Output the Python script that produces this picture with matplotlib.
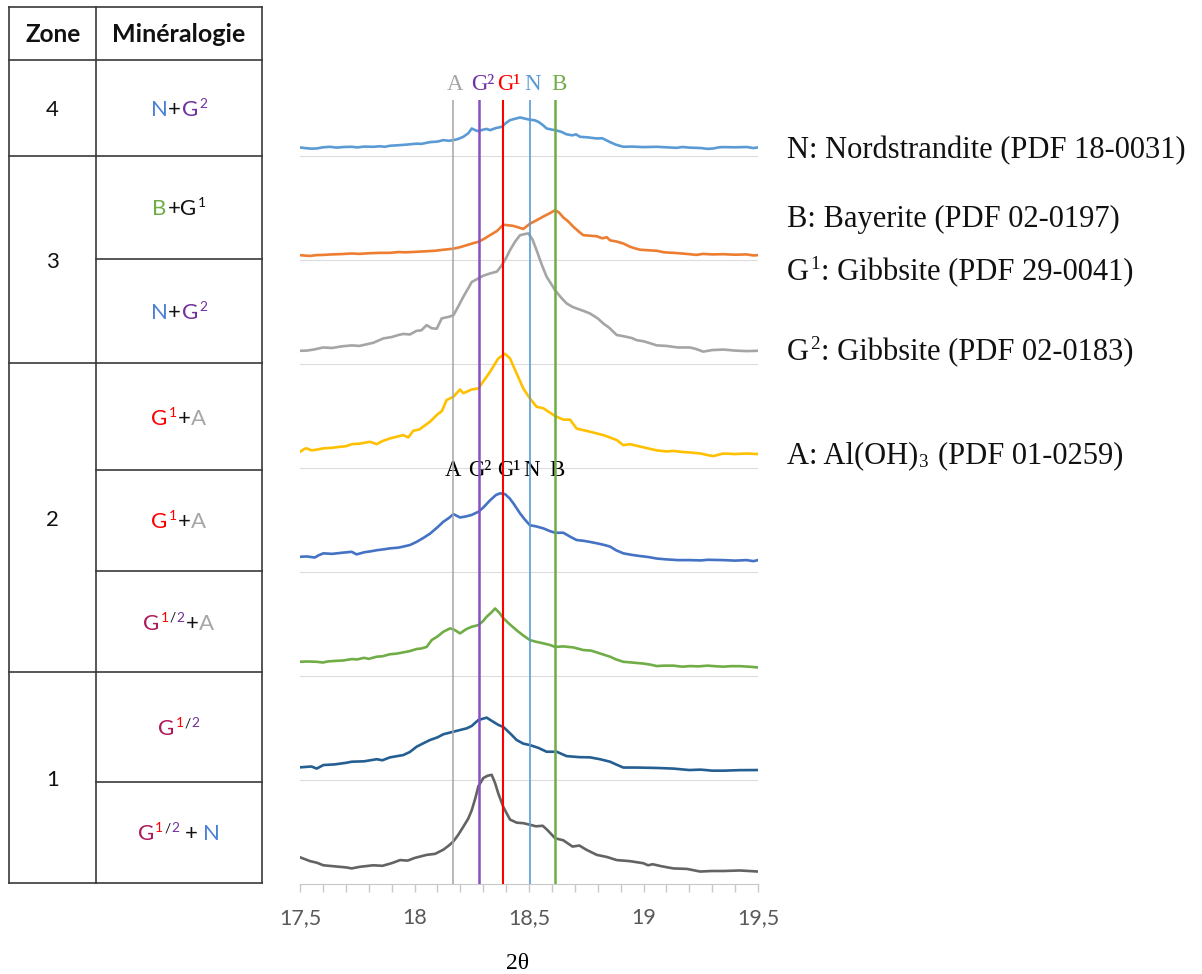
import numpy as np
import matplotlib.pyplot as plt
from matplotlib.ticker import MultipleLocator, FixedLocator

SANS = 'Lato'
SERIF = 'Liberation Serif'

# --- diffractogrammes (intensite relative, du bas vers le haut) ---
th0 = [17.5, 17.544, 17.573, 17.602, 17.65, 17.70, 17.726, 17.76, 17.82, 17.86, 17.90, 17.937, 17.97, 18.0,
       18.053, 18.09, 18.126, 18.15, 18.17, 18.19, 18.213, 18.235, 18.25, 18.265, 18.279, 18.301, 18.318,
       18.337, 18.352, 18.366, 18.388, 18.417, 18.446, 18.475, 18.504, 18.53, 18.56, 18.58, 18.614, 18.65,
       18.69, 18.72, 18.75, 18.796, 18.84, 18.883, 18.94, 18.999, 19.02, 19.04, 19.08, 19.13, 19.19, 19.247,
       19.30, 19.35, 19.42, 19.5]
y0 = [0.257, 0.22, 0.205, 0.18, 0.17, 0.16, 0.15, 0.165, 0.18, 0.175, 0.2, 0.23, 0.225, 0.25,
      0.28, 0.29, 0.33, 0.37, 0.41, 0.47, 0.55, 0.63, 0.71, 0.82, 0.94, 1.02, 1.04,
      1.05, 0.97, 0.87, 0.74, 0.62, 0.59, 0.585, 0.57, 0.555, 0.56, 0.52, 0.44, 0.42,
      0.36, 0.37, 0.33, 0.28, 0.26, 0.23, 0.22, 0.2, 0.18, 0.19, 0.17, 0.15, 0.145, 0.12,
      0.125, 0.125, 0.13, 0.12]

th1 = [17.5, 17.55, 17.573, 17.602, 17.65, 17.70, 17.726, 17.78, 17.835, 17.86, 17.893, 17.951, 17.98,
       18.009, 18.04, 18.068, 18.10, 18.126, 18.17, 18.228, 18.25, 18.265, 18.279, 18.315, 18.344, 18.366,
       18.388, 18.417, 18.446, 18.475, 18.504, 18.54, 18.577, 18.621, 18.664, 18.72, 18.766, 18.81, 18.854,
       18.88, 18.912, 18.97, 19.058, 19.13, 19.20, 19.25, 19.30, 19.35, 19.42, 19.5]
y1 = [0.122, 0.13, 0.11, 0.144, 0.15, 0.165, 0.176, 0.18, 0.2, 0.19, 0.218, 0.24, 0.27,
      0.32, 0.355, 0.385, 0.41, 0.44, 0.465, 0.497, 0.52, 0.55, 0.577, 0.60, 0.56, 0.53,
      0.51, 0.45, 0.385, 0.35, 0.336, 0.31, 0.272, 0.272, 0.23, 0.22, 0.218, 0.20, 0.176,
      0.15, 0.12, 0.12, 0.116, 0.11, 0.096, 0.10, 0.09, 0.09, 0.095, 0.096]

th2 = [17.5, 17.53, 17.573, 17.60, 17.62, 17.65, 17.69, 17.726, 17.75, 17.78, 17.80, 17.835, 17.86, 17.893,
       17.92, 17.951, 17.98, 18.009, 18.03, 18.053, 18.075, 18.10, 18.126, 18.155, 18.17, 18.199, 18.225,
       18.25, 18.279, 18.30, 18.315, 18.335, 18.352, 18.37, 18.388, 18.415, 18.446, 18.475, 18.504, 18.53,
       18.563, 18.59, 18.614, 18.65, 18.694, 18.72, 18.737, 18.77, 18.795, 18.82, 18.854, 18.88, 18.912,
       18.95, 18.999, 19.03, 19.058, 19.09, 19.13, 19.17, 19.203, 19.24, 19.28, 19.31, 19.349, 19.38, 19.42,
       19.46, 19.5]
y2 = [0.137, 0.14, 0.137, 0.13, 0.14, 0.145, 0.15, 0.163, 0.16, 0.175, 0.165, 0.186, 0.19, 0.21,
      0.215, 0.228, 0.24, 0.26, 0.265, 0.28, 0.346, 0.38, 0.426, 0.458, 0.45, 0.41, 0.45,
      0.474, 0.49, 0.53, 0.57, 0.61, 0.65, 0.61, 0.555, 0.5, 0.44, 0.39, 0.346, 0.33,
      0.314, 0.3, 0.28, 0.285, 0.275, 0.26, 0.25, 0.245, 0.228, 0.21, 0.186, 0.16, 0.137,
      0.13, 0.12, 0.11, 0.096, 0.1, 0.1, 0.09, 0.096, 0.093, 0.1, 0.095, 0.09, 0.095, 0.095,
      0.09, 0.083]

th3 = [17.5, 17.53, 17.565, 17.58, 17.602, 17.64, 17.68, 17.726, 17.747, 17.78, 17.81, 17.835, 17.87,
       17.893, 17.93, 17.951, 17.98, 18.009, 18.04, 18.068, 18.10, 18.126, 18.15, 18.17, 18.199, 18.225,
       18.25, 18.279, 18.30, 18.33, 18.355, 18.373, 18.395, 18.415, 18.432, 18.461, 18.48, 18.504, 18.53,
       18.563, 18.59, 18.614, 18.65, 18.68, 18.708, 18.74, 18.766, 18.80, 18.83, 18.854, 18.88, 18.912,
       18.95, 18.985, 19.02, 19.058, 19.10, 19.15, 19.203, 19.25, 19.28, 19.349, 19.40, 19.45, 19.48, 19.5]
y3 = [0.147, 0.15, 0.14, 0.16, 0.18, 0.175, 0.185, 0.195, 0.17, 0.19, 0.2, 0.21, 0.22,
      0.228, 0.235, 0.245, 0.26, 0.29, 0.33, 0.37, 0.43, 0.484, 0.52, 0.557, 0.525, 0.535,
      0.55, 0.58, 0.62, 0.69, 0.74, 0.757, 0.75, 0.71, 0.66, 0.564, 0.51, 0.45, 0.44,
      0.42, 0.395, 0.378, 0.378, 0.34, 0.308, 0.3, 0.29, 0.275, 0.26, 0.245, 0.21, 0.18,
      0.165, 0.154, 0.145, 0.13, 0.122, 0.115, 0.115, 0.112, 0.118, 0.115, 0.11, 0.115, 0.105, 0.115]

th4 = [17.5, 17.52, 17.529, 17.551, 17.58, 17.602, 17.64, 17.675, 17.70, 17.726, 17.76, 17.806, 17.835,
       17.86, 17.893, 17.92, 17.951, 17.973, 17.995, 18.02, 18.039, 18.07, 18.097, 18.12, 18.14, 18.17,
       18.199, 18.213, 18.25, 18.279, 18.33, 18.366, 18.395, 18.417, 18.446, 18.475, 18.504, 18.533, 18.563,
       18.614, 18.65, 18.679, 18.708, 18.766, 18.825, 18.883, 18.912, 18.941, 18.999, 19.058, 19.10, 19.13,
       19.17, 19.203, 19.25, 19.28, 19.305, 19.33, 19.349, 19.40, 19.45, 19.5]
y4 = [0.157, 0.185, 0.19, 0.17, 0.18, 0.19, 0.195, 0.205, 0.21, 0.23, 0.235, 0.253, 0.23,
      0.26, 0.285, 0.3, 0.317, 0.295, 0.36, 0.37, 0.40, 0.45, 0.51, 0.55, 0.654, 0.686,
      0.756, 0.72, 0.756, 0.766, 0.926, 1.055, 1.10, 1.055, 0.91, 0.766, 0.67, 0.59, 0.575,
      0.50, 0.466, 0.466, 0.38, 0.35, 0.317, 0.27, 0.22, 0.23, 0.20, 0.17, 0.16, 0.165,
      0.155, 0.15, 0.14, 0.125, 0.115, 0.13, 0.14, 0.135, 0.14, 0.135]

th5 = [17.5, 17.53, 17.56, 17.602, 17.64, 17.68, 17.726, 17.76, 17.79, 17.82, 17.864, 17.90, 17.93,
       17.951, 17.98, 18.009, 18.03, 18.053, 18.075, 18.097, 18.119, 18.15, 18.17, 18.19, 18.213, 18.235,
       18.25, 18.279, 18.30, 18.33, 18.36, 18.381, 18.40, 18.417, 18.44, 18.461, 18.48, 18.497, 18.515,
       18.533, 18.555, 18.577, 18.60, 18.614, 18.64, 18.664, 18.69, 18.708, 18.74, 18.766, 18.80, 18.825,
       18.85, 18.883, 18.92, 18.95, 18.97, 19.0, 19.03, 19.058, 19.10, 19.15, 19.203, 19.23, 19.261, 19.30,
       19.349, 19.40, 19.45, 19.5]
y5 = [0.128, 0.13, 0.14, 0.16, 0.155, 0.17, 0.18, 0.175, 0.19, 0.205, 0.247, 0.26, 0.28,
      0.29, 0.285, 0.32, 0.325, 0.375, 0.345, 0.34, 0.44, 0.455, 0.47, 0.55, 0.647, 0.73,
      0.79, 0.824, 0.85, 0.872, 0.89, 0.95, 1.02, 1.096, 1.18, 1.24, 1.25, 1.257, 1.2,
      1.096, 0.96, 0.84, 0.76, 0.71, 0.64, 0.584, 0.55, 0.535, 0.51, 0.487, 0.44, 0.39,
      0.35, 0.28, 0.265, 0.25, 0.23, 0.22, 0.2, 0.18, 0.175, 0.16, 0.16, 0.145, 0.12, 0.135,
      0.14, 0.13, 0.125, 0.128]

th6 = [17.5, 17.52, 17.544, 17.57, 17.60, 17.64, 17.68, 17.726, 17.76, 17.80, 17.85, 17.893, 17.93,
       17.96, 18.009, 18.05, 18.09, 18.126, 18.17, 18.20, 18.228, 18.26, 18.279, 18.30, 18.33, 18.36,
       18.388, 18.41, 18.43, 18.446, 18.475, 18.504, 18.53, 18.563, 18.59, 18.614, 18.63, 18.65, 18.67,
       18.694, 18.72, 18.737, 18.765, 18.795, 18.82, 18.84, 18.854, 18.88, 18.912, 18.94, 18.96, 18.985,
       19.02, 19.058, 19.09, 19.13, 19.16, 19.203, 19.23, 19.26, 19.30, 19.349, 19.40, 19.45, 19.48, 19.5]
y6 = [0.048, 0.044, 0.04, 0.048, 0.05, 0.055, 0.058, 0.064, 0.06, 0.066, 0.07, 0.07, 0.078,
      0.075, 0.08, 0.085, 0.09, 0.10, 0.11, 0.125, 0.144, 0.165, 0.176, 0.2, 0.24, 0.28,
      0.34, 0.335, 0.33, 0.32, 0.30, 0.35, 0.38, 0.42, 0.45, 0.48, 0.46, 0.41, 0.375,
      0.32, 0.27, 0.24, 0.235, 0.23, 0.21, 0.22, 0.19, 0.18, 0.16, 0.13, 0.115, 0.10,
      0.095, 0.09, 0.075, 0.07, 0.065, 0.057, 0.05, 0.06, 0.055, 0.057, 0.052, 0.055, 0.045, 0.048]

th7 = [17.5, 17.52, 17.55, 17.573, 17.60, 17.631, 17.66, 17.69, 17.726, 17.75, 17.78, 17.82, 17.85,
       17.87, 17.893, 17.93, 17.96, 18.009, 18.03, 18.068, 18.10, 18.126, 18.15, 18.17, 18.19, 18.213,
       18.235, 18.25, 18.265, 18.279, 18.30, 18.315, 18.33, 18.355, 18.381, 18.40, 18.417, 18.44, 18.461,
       18.48, 18.504, 18.525, 18.541, 18.56, 18.577, 18.60, 18.614, 18.64, 18.664, 18.69, 18.705, 18.723,
       18.76, 18.795, 18.82, 18.854, 18.88, 18.912, 18.95, 19.0, 19.058, 19.10, 19.145, 19.17, 19.20,
       19.25, 19.28, 19.305, 19.33, 19.349, 19.40, 19.45, 19.48, 19.5]
y7 = [0.084, 0.078, 0.072, 0.074, 0.085, 0.09, 0.082, 0.088, 0.09, 0.084, 0.092, 0.09, 0.095,
      0.09, 0.10, 0.105, 0.11, 0.12, 0.118, 0.135, 0.14, 0.154, 0.148, 0.154, 0.165, 0.186,
      0.22, 0.266, 0.25, 0.24, 0.255, 0.262, 0.25, 0.27, 0.282, 0.32, 0.346, 0.36, 0.372,
      0.362, 0.35, 0.345, 0.33, 0.30, 0.266, 0.255, 0.25, 0.235, 0.21, 0.2, 0.21, 0.186,
      0.18, 0.17, 0.172, 0.135, 0.11, 0.09, 0.092, 0.087, 0.09, 0.085, 0.08, 0.088, 0.082,
      0.078, 0.07, 0.074, 0.085, 0.087, 0.085, 0.088, 0.078, 0.084]

traces = [(th0, y0, '#636363'), (th1, y1, '#255E91'), (th2, y2, '#70AD47'), (th3, y3, '#4472C4'),
          (th4, y4, '#FFC000'), (th5, y5, '#A5A5A5'), (th6, y6, '#ED7D31'), (th7, y7, '#5B9BD5')]

# raies de reference
phases = ['A', 'G²', 'G¹', 'N', 'B']
phase_pos = [18.17, 18.28, 18.385, 18.505, 18.615]
phase_col = ['#A6A6A6', '#8A4FC2', '#FF0000', '#5B9BD5', '#70AD47']
phase_lw = [1.1, 1.8, 1.5, 1.2, 1.8]
label_top_x = [18.177, 18.30, 18.412, 18.517, 18.63]
label_top_col = ['#A6A6A6', '#7030A0', '#FF0000', '#5B9BD5', '#70AD47']
label_mid_x = [18.170, 18.286, 18.41, 18.513, 18.622]

xticks = [17.5, 18, 18.5, 19, 19.5]
xticklabels = ['17,5', '18', '18,5', '19', '19,5']

# tableau
BLUE, PURPLE, GREEN, RED, GREY, CRIM, K = '#4A7FD6', '#7030A0', '#70AD47', '#FF0000', '#A6A6A6', '#AD1A5A', '#111111'
zones = ['4', '3', '2', '1']
zone_rows = [1, 2, 3, 2]
G12 = [('G', CRIM, None), ('1', RED, 'sup'), ('/', K, 'sup'), ('2', PURPLE, 'sup')]
minerals = [
    [('N', BLUE, None), ('+', K, None), ('G', PURPLE, None), ('2', PURPLE, 'sup')],
    [('B', GREEN, None), ('+G', K, None), ('1', K, 'sup')],
    [('N', BLUE, None), ('+', K, None), ('G', PURPLE, None), ('2', PURPLE, 'sup')],
    [('G', RED, None), ('1', RED, 'sup'), ('+', K, None), ('A', GREY, None)],
    [('G', RED, None), ('1', RED, 'sup'), ('+', K, None), ('A', GREY, None)],
    G12 + [('+', K, None), ('A', GREY, None)],
    G12,
    G12 + [(' + ', K, None), ('N', BLUE, None)],
]
legend_items = [
    [('N: Nordstrandite (PDF 18-0031)', K, None)],
    [('B: Bayerite (PDF 02-0197)', K, None)],
    [('G', K, None), ('1', K, 'sup'), (': Gibbsite (PDF 29-0041)', K, None)],
    [('G', K, None), ('2', K, 'sup'), (': Gibbsite (PDF 02-0183)', K, None)],
    [('A: Al(OH)', K, None), ('3', K, 'sub'), (' (PDF 01-0259)', K, None)],
]
legend_y = [148, 217, 270, 350, 453]

W, H = 1202, 974
fig = plt.figure(figsize=(W / 100, H / 100), dpi=100)
ax = fig.add_axes([300 / W, 90 / H, 458 / W, 784 / H])

for i, (t, v, c) in enumerate(traces):
    ax.plot(t, np.array(v) + i, color=c, lw=1.9, zorder=3, solid_joinstyle='round')
for k in range(1, 8):
    ax.axhline(k, color='#DCDCDC', lw=0.8, zorder=1)
for p, c, lw in zip(phase_pos, phase_col, phase_lw):
    ax.axvline(p, color=c, lw=lw, zorder=4)

ax.set_xlim(17.5, 19.5)
ax.set_ylim(0, 7.54)
ax.set_yticks([])
for s in ['left', 'right', 'top']:
    ax.spines[s].set_visible(False)
ax.spines['bottom'].set_color('#C8C8C8')
ax.xaxis.set_major_locator(FixedLocator(xticks))
ax.set_xticklabels(xticklabels, family=SANS)
ax.xaxis.set_minor_locator(MultipleLocator(0.1))
ax.tick_params(axis='x', which='both', direction='out', length=6, color='#C8C8C8', width=1)
ax.tick_params(axis='x', which='major', labelsize=15.5, labelcolor='#595959', pad=11)

for lab, x, c in zip(phases, label_top_x, label_top_col):
    ax.text(x, (884 - 90) / 104, lab, color=c, ha='center', va='baseline', fontsize=16.5, family=SERIF)
for lab, x in zip(phases, label_mid_x):
    ax.text(x, (884 - 476) / 104, lab, color='black', ha='center', va='baseline', fontsize=16.5, family=SERIF)

fig.text(518 / W, 1 - 953 / H, '2θ', ha='center', va='top', fontsize=17, family=SERIF)

# calque en pixels pour le tableau et la legende
ov = fig.add_axes([0, 0, 1, 1], zorder=5)
ov.set_xlim(0, W)
ov.set_ylim(H, 0)
ov.axis('off')
ov.patch.set_visible(False)
renderer = fig.canvas.get_renderer()


def rich(x, cy, segs, size, family, ha='center', cap=0.72, weight='normal'):
    em = size * 100 / 72
    base = cy + cap * em / 2
    sp = 0.25 if family == SERIF else 0.2
    parts = []
    for s, c, sh in segs:
        fs = size * 0.62 if sh else size
        core = s.strip(' ')
        lead = len(s) - len(s.lstrip(' '))
        trail = len(s) - len(s.rstrip(' '))
        t = ov.text(0, 0, core, color=c, fontsize=fs, family=family, weight=weight, va='baseline', ha='left')
        w = t.get_window_extent(renderer).width
        parts.append((t, sh, w, lead * sp * fs * 100 / 72, trail * sp * fs * 100 / 72))
    gap = 0.04 * em
    total = sum(p[2] + p[3] + p[4] for p in parts) + gap * (len(parts) - 1)
    x0 = x - total / 2 if ha == 'center' else x
    for t, sh, w, lead, trail in parts:
        dy = {'sup': -0.36 * em, 'sub': 0.14 * em}.get(sh, 0)
        x0 += lead
        t.set_position((x0, base + dy))
        x0 += w + trail + gap


# tableau
tx = [9.3, 96, 261.7]
row_edges = [60, 155.7, 259, 363.3, 470, 571, 672.3, 781.7, 883.3]
line_kw = dict(color='#3A3A3A', lw=1.2)
ov.plot([tx[0], tx[2]], [6.7, 6.7], **line_kw)
ov.plot([tx[0], tx[2]], [60, 60], **line_kw)
for x in tx:
    ov.plot([x, x], [6.7, 883.3], **line_kw)
for y in row_edges[1:]:
    ov.plot([tx[1], tx[2]], [y, y], **line_kw)
idx = 0
for z, n in zip(zones, zone_rows):
    y_top, y_bot = row_edges[idx], row_edges[idx + n]
    ov.plot([tx[0], tx[1]], [y_bot, y_bot], **line_kw)
    rich((tx[0] + tx[1]) / 2, (y_top + y_bot) / 2, [(z, K, None)], 16, SANS)
    idx += n
for i, segs in enumerate(minerals):
    rich((tx[1] + tx[2]) / 2, (row_edges[i] + row_edges[i + 1]) / 2, segs, 16, SANS)
rich((tx[0] + tx[1]) / 2, 33, [('Zone', K, None)], 17.5, SANS, weight='bold')
rich((tx[1] + tx[2]) / 2, 33, [('Minéralogie', K, None)], 18, SANS, weight='bold')

for segs, y in zip(legend_items, legend_y):
    rich(787, y, segs, 22, SERIF, ha='left', cap=0.66)

fig.savefig('out.png', dpi=100)
